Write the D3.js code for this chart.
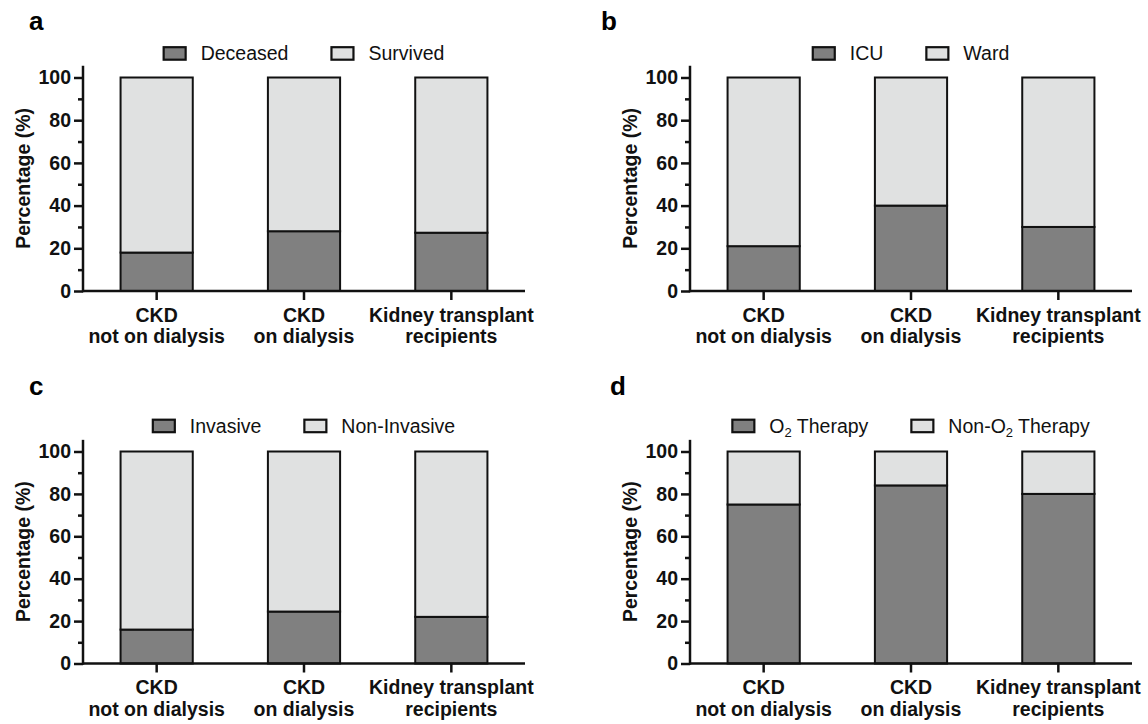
<!DOCTYPE html>
<html>
<head>
<meta charset="utf-8">
<script src="https://cdn.jsdelivr.net/npm/d3@7"></script>
<style>
  body { margin: 0; background: #fff; }
  svg { font-family: "Liberation Sans", Arial, sans-serif; }
</style>
</head>
<body>
<svg id="canvas"></svg>
<script>
// data
let categories = [["CKD", "not on dialysis"], ["CKD", "on dialysis"], ["Kidney transplant", "recipients"]];
let yTicks = [0, 20, 40, 60, 80, 100];
let yMinor = [10, 30, 50, 70, 90];

let deceased = [18, 28, 27.3];
let survived = [82, 72, 72.7];

let icu = [21, 40, 30];
let ward = [79, 60, 70];

let invasive = [16, 24.5, 22];
let nonInvasive = [84, 75.5, 78];

let o2 = [75, 84, 80];
let nonO2 = [25, 16, 20];

let dark = '#808080';
let light = '#e0e1e1';
let ink = '#111';

let svg = d3.select('#canvas')
  .attr('width', 1148)
  .attr('height', 724);

let panels = [
  { label: 'a', names: ['Deceased', 'Survived'], lower: deceased, upper: survived, left: 83, bottom: 291, top100: 77.5, labelX: 29, labelY: 30 },
  { label: 'b', names: ['ICU', 'Ward'], lower: icu, upper: ward, left: 690, bottom: 291, top100: 77.5, labelX: 601, labelY: 30 },
  { label: 'c', names: ['Invasive', 'Non-Invasive'], lower: invasive, upper: nonInvasive, left: 83, bottom: 663.5, top100: 451.5, labelX: 29, labelY: 395 },
  { label: 'd', names: ['O2', 'Non-O2'], lower: o2, upper: nonO2, left: 690, bottom: 663.5, top100: 451.5, labelX: 610, labelY: 395 }
];

panels.forEach(p => {
  let g = svg.append('g');
  let right = p.left + 442;

  let y = d3.scaleLinear().domain([0, 100]).range([p.bottom, p.top100]);
  let x = d3.scaleBand()
    .domain(d3.range(categories.length))
    .range([p.left, right])
    .paddingInner(0.51)
    .paddingOuter(0.255);

  // panel letter
  g.append('text')
    .attr('x', p.labelX)
    .attr('y', p.labelY)
    .attr('font-size', 26)
    .attr('font-weight', 'bold')
    .text(p.label);

  // stacked bars
  let rows = d3.range(categories.length).map(i => ({ i: i, lo: p.lower[i], hi: p.upper[i] }));
  g.selectAll('rect.lo')
    .data(rows)
    .join('rect')
    .attr('class', 'lo')
    .attr('x', d => x(d.i))
    .attr('width', x.bandwidth())
    .attr('y', d => y(d.lo))
    .attr('height', d => y(0) - y(d.lo))
    .attr('fill', dark)
    .attr('stroke', ink)
    .attr('stroke-width', 2);
  g.selectAll('rect.hi')
    .data(rows)
    .join('rect')
    .attr('class', 'hi')
    .attr('x', d => x(d.i))
    .attr('width', x.bandwidth())
    .attr('y', d => y(d.lo + d.hi))
    .attr('height', d => y(d.lo) - y(d.lo + d.hi))
    .attr('fill', light)
    .attr('stroke', ink)
    .attr('stroke-width', 2);

  // y axis
  let yAxis = g.append('g')
    .attr('transform', `translate(${p.left},0)`)
    .call(d3.axisLeft(y).tickValues(yTicks).tickSize(9).tickPadding(3));
  yAxis.select('.domain').remove();
  yAxis.selectAll('line').attr('stroke', ink).attr('stroke-width', 2.5);
  yAxis.selectAll('text')
    .attr('fill', ink)
    .attr('font-size', 19.5)
    .attr('font-weight', 'bold')
    .attr('font-family', '"Liberation Sans", Arial, sans-serif');
  g.append('g')
    .attr('transform', `translate(${p.left},0)`)
    .call(d3.axisLeft(y).tickValues(yMinor).tickSize(5).tickFormat(''))
    .call(a => a.select('.domain').remove())
    .selectAll('line').attr('stroke', ink).attr('stroke-width', 2.5);
  g.append('line')
    .attr('x1', p.left).attr('x2', p.left)
    .attr('y1', y(0) + 1.2).attr('y2', y(105.5))
    .attr('stroke', ink)
    .attr('stroke-width', 2.5);

  // y title
  let midY = (y(0) + y(105.5)) / 2;
  g.append('text')
    .attr('transform', `translate(${p.left - 53},${midY}) rotate(-90)`)
    .attr('text-anchor', 'middle')
    .attr('font-size', 19.5)
    .attr('font-weight', 'bold')
    .attr('fill', ink)
    .text('Percentage (%)');

  // x axis
  let xAxis = g.append('g')
    .attr('transform', `translate(0,${p.bottom})`)
    .call(d3.axisBottom(x).tickSize(9).tickSizeOuter(0).tickFormat(''));
  xAxis.select('.domain').remove();
  xAxis.selectAll('line').attr('stroke', ink).attr('stroke-width', 2.5);
  g.append('line')
    .attr('x1', p.left).attr('x2', right)
    .attr('y1', p.bottom).attr('y2', p.bottom)
    .attr('stroke', ink)
    .attr('stroke-width', 2.5);

  let xl = g.selectAll('text.xl')
    .data(categories)
    .join('text')
    .attr('class', 'xl')
    .attr('text-anchor', 'middle')
    .attr('font-size', 19.5)
    .attr('font-weight', 'bold')
    .attr('fill', ink);
  xl.append('tspan')
    .attr('x', (d, i) => x(i) + x.bandwidth() / 2)
    .attr('y', p.bottom + 30.5)
    .text(d => d[0]);
  xl.append('tspan')
    .attr('x', (d, i) => x(i) + x.bandwidth() / 2)
    .attr('y', p.bottom + 52)
    .text(d => d[1]);

  // legend, centred over the plot
  let leg = g.append('g');
  let ly = p.bottom - 237.5;
  let cursor = 0;
  p.names.forEach((name, k) => {
    let item = leg.append('g').attr('transform', `translate(${cursor},0)`);
    item.append('rect')
      .attr('x', 0).attr('y', ly - 6.3)
      .attr('width', 22).attr('height', 12.5)
      .attr('fill', k === 0 ? dark : light)
      .attr('stroke', ink)
      .attr('stroke-width', 2.2);
    let t = item.append('text')
      .attr('x', 37)
      .attr('y', ly + 6.8)
      .attr('font-size', 19.5)
      .attr('fill', ink);
    if (name.endsWith('O2')) {
      t.append('tspan').text(name.slice(0, -1));
      t.append('tspan').attr('font-size', 13).attr('dy', 4).text('2');
      t.append('tspan').attr('dy', -4).text(' Therapy');
    } else {
      t.text(name);
    }
    cursor += 37 + t.node().getComputedTextLength() + 43;
  });
  let legW = cursor - 43;
  leg.attr('transform', `translate(${(p.left + right) / 2 - legW / 2},0)`);
});
</script>
</body>
</html>
